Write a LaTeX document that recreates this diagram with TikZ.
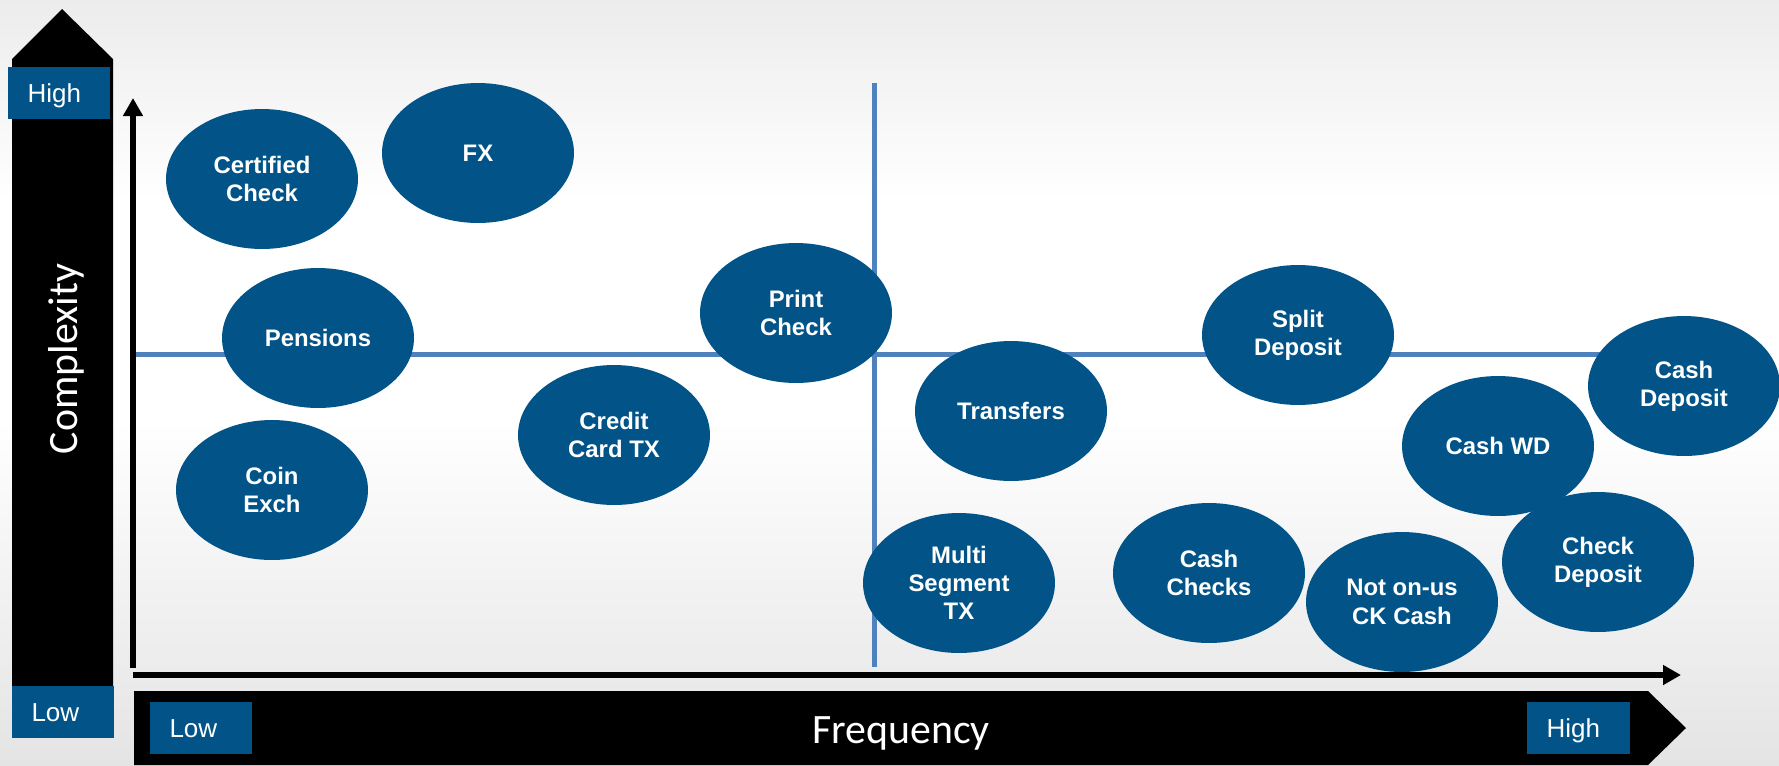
\documentclass[tikz,border=0pt]{standalone}
\usepackage{fontspec}
\setmainfont{Liberation Sans}
\newfontfamily\axisfont{Carlito}
\usetikzlibrary{arrows.meta,shapes.geometric}

\definecolor{tileblue}{RGB}{2,84,136}
\definecolor{gridblue}{RGB}{79,129,189}
\definecolor{paper}{RGB}{236,236,236}
\definecolor{paperlow}{RGB}{228,228,228}

\tikzset{
  bubble/.style={ellipse, fill=tileblue, text=white, inner sep=0pt,
    minimum width=3.84cm, minimum height=2.8cm, align=center,
    font=\fontsize{13.6}{16.1}\selectfont\bfseries},
  tag/.style={fill=tileblue, text=white, inner xsep=0.4cm, inner ysep=0pt,
    text width=1.26cm, align=left, text height=0.38cm, text depth=0pt,
    minimum height=1.03cm, font=\fontsize{14.8}{16}\selectfont},
  axtitle/.style={text=white, font=\axisfont\fontsize{23.8}{26}\selectfont},
  quadline/.style={gridblue, line width=2.85pt},
  axisline/.style={line width=3.4pt, -{Triangle[length=0.36cm,width=0.38cm]}},
}

\begin{document}
\begin{tikzpicture}[x=0.02cm,y=-0.02cm]
\useasboundingbox (0,0) rectangle (1779,765);
% backdrop: grey at top and bottom, white in between
\shade[top color=paper, bottom color=white] (0,0) rectangle (1779,200);
\fill[white] (0,199) rectangle (1779,421);
\shade[top color=white, bottom color=paperlow] (0,420) rectangle (1779,765);

% block arrows
\fill (12,687) -- (12,59) -- (62,9) -- (113,59) -- (113,687) -- cycle;
\fill (134,691) -- (1648,691) -- (1686,728) -- (1648,765) -- (134,765) -- cycle;
\node[axtitle, rotate=90, anchor=base] (complexity) at (77,359) {Complexity};
\node[axtitle, anchor=base] (frequency) at (901,743) {Frequency};

\node[tag] (hiC) at (59,93) {High};
\node[tag] (loC) at (63,712) {Low};
\node[tag] (loF) at (201,728) {Low};
\node[tag] (hiF) at (1578,728) {High};

% quadrants
\draw[quadline] (136,354) -- (1650,354);
\draw[quadline] (874,83) -- (874,667);

% axes
\coordinate (origin) at (133,668);
\coordinate (ytop) at (133,98);
\coordinate (xstart) at (133,675);
\coordinate (xend) at (1681,675);
\draw[axisline] (origin) -- (ytop);
\draw[axisline] (xstart) -- (xend);

\foreach \n/\x/\y/\t in {cert/262/179/{Certified\\Check}, fx/478/153/FX,
  pens/318/338/Pensions, coin/272/490/{Coin\\Exch}, credit/614/435/{Credit\\Card TX},
  print/796/313/{Print\\Check}, transf/1011/411/Transfers,
  multi/959/583/{Multi\\Segment\\TX}, cashchk/1209/573/{Cash\\Checks},
  split/1298/335/{Split\\Deposit}, notonus/1402/602/{Not on-us\\CK Cash},
  cashwd/1498/446/Cash WD, chkdep/1598/562/{Check\\Deposit},
  cashdep/1684/386/{Cash\\Deposit}}
{
\node[bubble] (\n) at (\x,\y) {\t};
}
\end{tikzpicture}
\end{document}
